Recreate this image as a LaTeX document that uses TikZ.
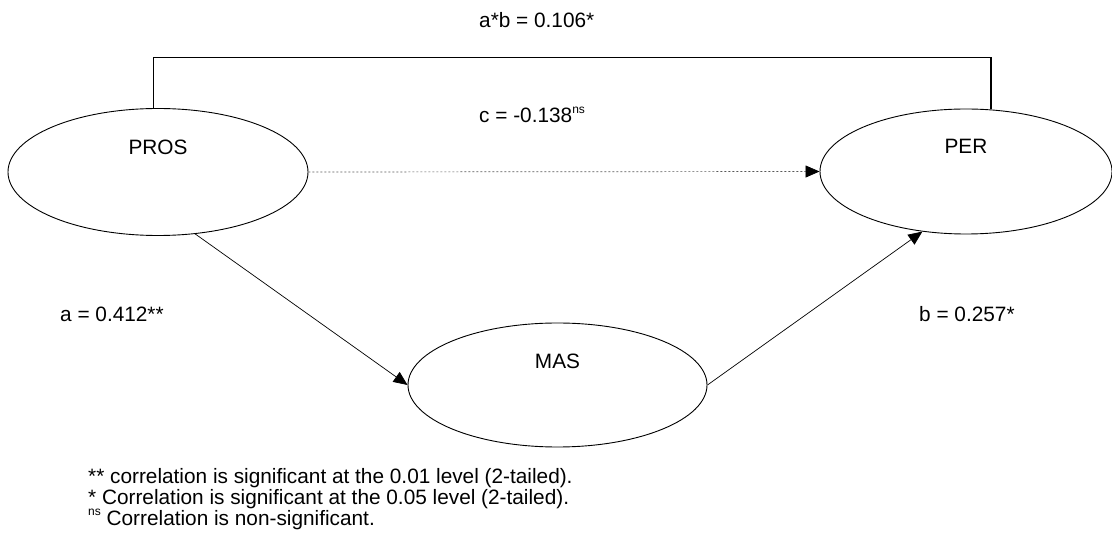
\documentclass[tikz,border=0pt]{standalone}
\usepackage{fontspec}
\setmainfont{Liberation Sans}
\usetikzlibrary{shapes.geometric,arrows.meta}
% small raised "ns" marker
\newcommand\nsmark{\raisebox{9.5pt}{\fontsize{12}{12}\selectfont ns}}
\begin{document}
\begin{tikzpicture}[x=1pt,y=-1pt,
  every node/.style={font=\fontsize{20.8}{21}\selectfont},
  latent/.style={ellipse, draw, line width=0.9pt, inner sep=0pt},
  effect/.style={line width=0.7pt, -{Triangle[length=14pt,width=12pt]}},
  direct/.style={line width=0.7pt, draw=black!65, dash pattern=on 2pt off 2pt,
                 -{Triangle[length=14pt,width=12pt,color=black]}},
  bracket/.style={line width=1.8pt},
  txt/.style={anchor=base west, inner sep=0pt}]
\useasboundingbox (0,0) rectangle (1112,537);

% latent variables
\node[latent, minimum width=300pt, minimum height=127pt,
      label={[yshift=24.5pt]center:PROS}] (PROS) at (158,172) {};
\node[latent, minimum width=292pt, minimum height=125pt,
      label={[yshift=25pt]center:PER}] (PER) at (966,171.5) {};
\node[latent, minimum width=299pt, minimum height=124pt,
      label={[yshift=24pt]center:MAS}] (MAS) at (557.5,385) {};

% indirect effect bracket
\coordinate (top) at (0,57.5);
\draw[bracket] (PROS.94) -- (PROS.94 |- top) -| (PER.68);

% paths
\draw[direct] (PROS.east) -- (PER.west);
\draw[effect] (PROS.-59) -- (MAS.west);
\draw[effect] (MAS.east) -- (PER.-126);

% coefficients
\node[txt] (ab) at (479,28) {a*b = 0.106*};
\node[txt] (c) at (479,123) {c = -0.138\nsmark};
\node[txt] (a) at (60,322) {a = 0.412**};
\node[txt] (b) at (919,322) {b = 0.257*};

% significance notes
\node[txt] (n1) at (88,483) {** correlation is significant at the 0.01 level (2-tailed).};
\node[txt] (n2) at (88,504.5) {* Correlation is significant at the 0.05 level (2-tailed).};
\node[txt] (n3) at (88,525.5) {\nsmark\ Correlation is non-significant.};
\end{tikzpicture}
\end{document}
